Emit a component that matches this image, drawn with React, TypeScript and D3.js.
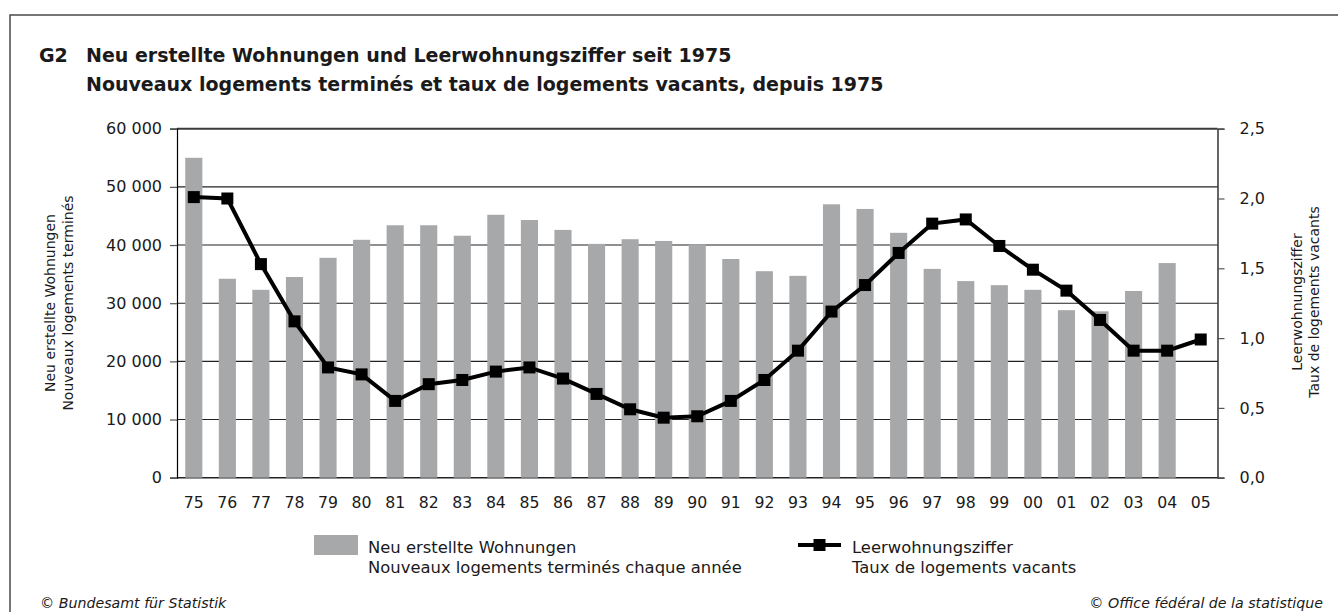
import React, { useEffect, useRef } from 'react';
import * as d3 from 'd3';

// --- Data ---
const years = ['75', '76', '77', '78', '79', '80', '81', '82', '83', '84', '85', '86', '87', '88', '89',
  '90', '91', '92', '93', '94', '95', '96', '97', '98', '99', '00', '01', '02', '03', '04', '05'];

// Neu erstellte Wohnungen (left axis), 2005 not available
const newDwellings = [55000, 34200, 32300, 34500, 37800, 40900, 43400, 43400, 41600, 45200, 44300, 42600,
  40200, 41000, 40700, 40100, 37600, 35500, 34700, 47000, 46200, 42100, 35900, 33800, 33100, 32300,
  28800, 28600, 32100, 36900, null];

// Leerwohnungsziffer in % (right axis)
const vacancyRate = [2.01, 2.0, 1.53, 1.12, 0.79, 0.74, 0.55, 0.67, 0.7, 0.76, 0.79, 0.71, 0.6, 0.49, 0.43,
  0.44, 0.55, 0.7, 0.91, 1.19, 1.38, 1.61, 1.82, 1.85, 1.66, 1.49, 1.34, 1.13, 0.91, 0.91, 0.99];

const leftTicks = [0, 10000, 20000, 30000, 40000, 50000, 60000];
const rightTicks = [0, 0.5, 1.0, 1.5, 2.0, 2.5];

const titleLines = [
  'Neu erstellte Wohnungen und Leerwohnungsziffer seit 1975',
  'Nouveaux logements terminés et taux de logements vacants, depuis 1975',
];
const leftAxisTitle = ['Neu erstellte Wohnungen', 'Nouveaux logements terminés'];
const rightAxisTitle = ['Leerwohnungsziffer', 'Taux de logements vacants'];
const barLegend = ['Neu erstellte Wohnungen', 'Nouveaux logements terminés chaque année'];
const lineLegend = ['Leerwohnungsziffer', 'Taux de logements vacants'];

const FONT = '"DejaVu Sans", "Liberation Sans", sans-serif';
const BAR = '#a7a8aa';
const INK = '#1a1a1a';

const App = () => {
  const svgRef = useRef<SVGSVGElement | null>(null);

  useEffect(() => {
    if (!svgRef.current) return;
    const svg = d3.select(svgRef.current);
    svg.selectAll('*').remove();

    const W = 1338;
    const H = 612;
    const plot = { left: 177, right: 1217.5, top: 128.7, bottom: 477.7 };

    const x = d3.scaleBand().domain(years).range([plot.left, plot.right])
      .paddingInner(0.49).paddingOuter(0.245);
    const yL = d3.scaleLinear().domain([0, 60000]).range([plot.bottom, plot.top]);
    const yR = d3.scaleLinear().domain([0, 2.5]).range([plot.bottom, plot.top]);
    const cx = (d: string) => (x(d) ?? 0) + x.bandwidth() / 2;

    svg.attr('width', W).attr('height', H).style('font-family', FONT);

    // frame (top + left edge)
    svg.append('path')
      .attr('d', `M10,${H} L10,15 L${W},15`)
      .attr('fill', 'none').attr('stroke', '#4a4a4a').attr('stroke-width', 1.5);

    // title
    const title = svg.append('g').attr('fill', INK).style('font-weight', 'bold').style('font-size', '19px');
    title.append('text').attr('x', 39).attr('y', 62).text('G2');
    titleLines.forEach((t, i) => {
      title.append('text').attr('x', 86).attr('y', 62 + i * 29).text(t);
    });

    // gridlines
    svg.append('g').selectAll('line').data(leftTicks).enter().append('line')
      .attr('x1', plot.left).attr('x2', plot.right)
      .attr('y1', d => yL(d)).attr('y2', d => yL(d))
      .attr('stroke', d => (d === 60000 ? '#3a3a3a' : '#222'))
      .attr('stroke-width', d => (d === 60000 ? 2 : d === 0 ? 1.4 : 1.1));

    // bars
    svg.append('g').selectAll('rect')
      .data(years.map((y, i) => ({ y, v: newDwellings[i] })).filter(d => d.v != null))
      .enter().append('rect')
      .attr('x', d => x(d.y) ?? 0).attr('width', x.bandwidth())
      .attr('y', d => yL(d.v as number)).attr('height', d => plot.bottom - yL(d.v as number))
      .attr('fill', BAR);

    // left axis
    const fmtL = (v: number) => d3.format(',')(v).replace(/,/g, ' ');
    const axL = svg.append('g').attr('transform', `translate(${plot.left},0)`)
      .call(d3.axisLeft(yL).tickValues(leftTicks).tickSize(7).tickPadding(8).tickFormat(d => fmtL(d as number)));
    axL.select('.domain').attr('stroke', '#000').attr('stroke-width', 1.2);
    axL.selectAll('.tick line').attr('stroke', '#555').attr('stroke-width', 1.2);
    axL.selectAll('.tick text').attr('fill', INK).style('font-size', '16px').style('font-family', FONT);

    // right axis
    const fmtR = (v: number) => d3.format('.1f')(v).replace('.', ',');
    const axR = svg.append('g').attr('transform', `translate(${plot.right},0)`)
      .call(d3.axisRight(yR).tickValues(rightTicks).tickSize(7).tickPadding(15).tickFormat(d => fmtR(d as number)));
    axR.select('.domain').attr('stroke', '#000').attr('stroke-width', 1.2);
    axR.selectAll('.tick line').attr('stroke', '#555').attr('stroke-width', 1.2);
    axR.selectAll('.tick text').attr('fill', INK).style('font-size', '16px').style('font-family', FONT);

    // x axis labels
    const axX = svg.append('g').attr('transform', `translate(0,${plot.bottom})`)
      .call(d3.axisBottom(x).tickSize(0).tickPadding(19));
    axX.select('.domain').remove();
    axX.selectAll('.tick text').attr('fill', INK).style('font-size', '15.7px').style('font-family', FONT);

    // vacancy line
    const line = d3.line<number>().x((_, i) => cx(years[i])).y(d => yR(d));
    svg.append('path').datum(vacancyRate).attr('d', line)
      .attr('fill', 'none').attr('stroke', '#000').attr('stroke-width', 4).attr('stroke-linejoin', 'miter');
    svg.append('g').selectAll('rect').data(vacancyRate).enter().append('rect')
      .attr('x', (_, i) => cx(years[i]) - 6).attr('y', d => yR(d) - 6)
      .attr('width', 12).attr('height', 12).attr('fill', '#000');

    // axis titles (rotated)
    const axisTitle = (lines: string[], xs: number[], cy: number) => {
      lines.forEach((t, i) => {
        svg.append('text')
          .attr('transform', `translate(${xs[i]},${cy}) rotate(-90)`)
          .attr('text-anchor', 'middle').attr('fill', INK).style('font-size', '14px')
          .text(t);
      });
    };
    axisTitle(leftAxisTitle, [55, 73], 303);
    axisTitle(rightAxisTitle, [1302, 1319], 302);

    // legend
    const lg = svg.append('g').attr('fill', INK).style('font-size', '16.4px');
    lg.append('rect').attr('x', 314).attr('y', 535).attr('width', 44).attr('height', 20).attr('fill', BAR);
    barLegend.forEach((t, i) => lg.append('text').attr('x', 368).attr('y', 553 + i * 20).text(t));
    lg.append('line').attr('x1', 798).attr('x2', 841).attr('y1', 545).attr('y2', 545)
      .attr('stroke', '#000').attr('stroke-width', 4);
    lg.append('rect').attr('x', 813.5).attr('y', 539).attr('width', 12).attr('height', 12).attr('fill', '#000');
    lineLegend.forEach((t, i) => lg.append('text').attr('x', 852).attr('y', 553 + i * 20).text(t));

    // footer
    const ft = svg.append('g').attr('fill', INK).style('font-size', '14.2px').style('font-style', 'italic');
    ft.append('text').attr('x', 40).attr('y', 608).text('© Bundesamt für Statistik');
    ft.append('text').attr('x', 1323).attr('y', 608).attr('text-anchor', 'end').text('© Office fédéral de la statistique');
  }, []);

  return (
    <svg ref={svgRef} width={1338} height={612}
      style={{ position: 'absolute', left: 0, top: 0, display: 'block', background: '#fff' }} />
  );
};

export default App;
